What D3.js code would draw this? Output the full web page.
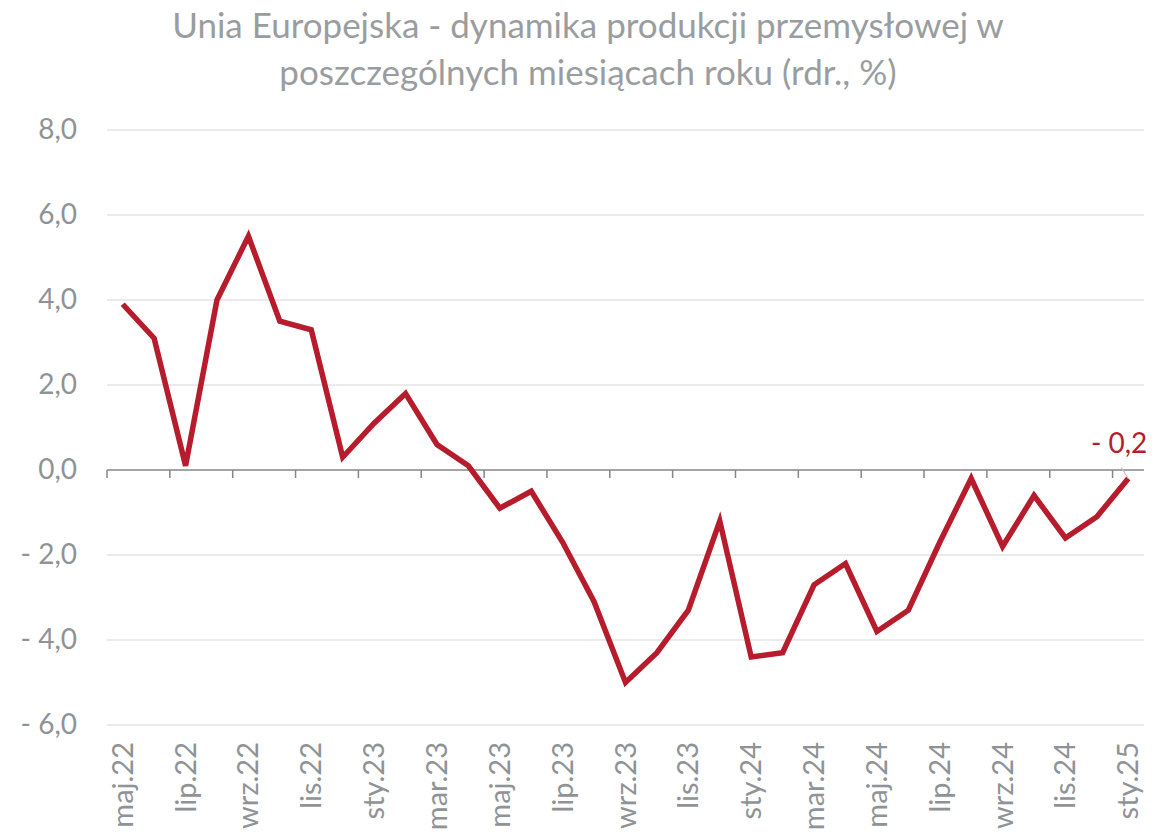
<!DOCTYPE html>
<html>
<head>
<meta charset="utf-8">
<script src="https://cdn.jsdelivr.net/npm/d3@7"></script>
<style>
  body { margin: 0; background: #fff; }
  svg text { font-family: Lato, "Open Sans", sans-serif; }
</style>
</head>
<body>
<div id="graphContainer"></div>
<script>
// months from maj.22 to sty.25
const months = [
    "maj.22", "cze.22", "lip.22", "sie.22", "wrz.22", "paź.22", "lis.22", "gru.22",
    "sty.23", "lut.23", "mar.23", "kwi.23", "maj.23", "cze.23", "lip.23", "sie.23",
    "wrz.23", "paź.23", "lis.23", "gru.23", "sty.24", "lut.24", "mar.24", "kwi.24",
    "maj.24", "cze.24", "lip.24", "sie.24", "wrz.24", "paź.24", "lis.24", "gru.24",
    "sty.25"
];
const values = [
    3.9, 3.1, 0.1, 4.0, 5.5, 3.5, 3.3, 0.3,
    1.1, 1.8, 0.6, 0.1, -0.9, -0.5, -1.7, -3.1,
    -5.0, -4.3, -3.3, -1.2, -4.4, -4.3, -2.7, -2.2,
    -3.8, -3.3, -1.7, -0.2, -1.8, -0.6, -1.6, -1.1,
    -0.2
];
const yTicks = [-6, -4, -2, 0, 2, 4, 6, 8];
const titleLines = [
    "Unia Europejska - dynamika produkcji przemysłowej w",
    "poszczególnych miesiącach roku (rdr., %)"
];

const W = 1152, H = 836;
const margin = { top: 130, right: 8, bottom: 111, left: 107 };
const width = W - margin.left - margin.right;
const height = H - margin.top - margin.bottom;

const svg = d3.select("#graphContainer").append("svg")
    .attr("width", W)
    .attr("height", H);

// title
svg.append("g").selectAll("text")
    .data(titleLines)
    .enter()
    .append("text")
    .attr("x", 588)
    .attr("y", (d, i) => 38 + i * 47)
    .attr("text-anchor", "middle")
    .style("font-size", "35px")
    .style("fill", "#9a9d9f")
    .text(d => d);

const g = svg.append("g")
    .attr("transform", `translate(${margin.left},${margin.top})`);

const x = d3.scaleBand().domain(months).range([0, width]);
const y = d3.scaleLinear().domain([-6, 8]).range([height, 0]);

const fmt = v => (v < 0 ? "- " : "") + d3.format(".1f")(Math.abs(v)).replace(".", ",");

// gridlines
g.selectAll(".grid")
    .data(yTicks.filter(d => d !== 0))
    .enter()
    .append("line")
    .attr("class", "grid")
    .attr("x1", 0).attr("x2", width)
    .attr("y1", d => y(d)).attr("y2", d => y(d))
    .attr("stroke", "#e3e3e3")
    .attr("stroke-width", 1.5);

// y axis labels
const yAxis = g.append("g")
    .call(d3.axisLeft(y).tickValues(yTicks).tickFormat(fmt).tickSize(0).tickPadding(30));
yAxis.select(".domain").remove();
yAxis.selectAll("text")
    .style("font-size", "28px")
    .style("fill", "#8f9396");

// x axis at zero
const xAxis = g.append("g")
    .attr("transform", `translate(0,${y(0)})`);
xAxis.append("line")
    .attr("x1", 0).attr("x2", width)
    .attr("stroke", "#868686")
    .attr("stroke-width", 1.5);
const tickIdx = d3.range(0, months.length + 1, 2);
xAxis.selectAll(".tk")
    .data(tickIdx)
    .enter()
    .append("line")
    .attr("class", "tk")
    .attr("x1", i => i < months.length ? x(months[i]) : width)
    .attr("x2", i => i < months.length ? x(months[i]) : width)
    .attr("y1", 0).attr("y2", 8)
    .attr("stroke", "#868686")
    .attr("stroke-width", 1.5);

// x labels at bottom, rotated
g.append("g").selectAll("text")
    .data(months.filter((d, i) => i % 2 === 0))
    .enter()
    .append("text")
    .attr("transform", d => `translate(${x(d) + x.bandwidth() / 2 + 10},${height + 17}) rotate(-90)`)
    .attr("text-anchor", "end")
    .style("font-size", "29px")
    .style("fill", "#8f9396")
    .text(d => d);

// line
const line = d3.line()
    .x((d, i) => x(months[i]) + x.bandwidth() / 2)
    .y(d => y(d));

g.append("path")
    .datum(values)
    .attr("d", line)
    .attr("fill", "none")
    .attr("stroke", "#b71c2c")
    .attr("stroke-width", 5.5)
    .attr("stroke-linejoin", "miter");

// last value label with leader
const lastI = values.length - 1;
const lx = x(months[lastI]) + x.bandwidth() / 2;
const ly = y(values[lastI]);
g.append("line")
    .attr("x1", lx).attr("y1", ly)
    .attr("x2", lx - 7).attr("y2", ly - 11)
    .attr("stroke", "#bfbfbf")
    .attr("stroke-width", 1.2);
g.append("text")
    .attr("x", lx + 19)
    .attr("y", ly - 26)
    .attr("text-anchor", "end")
    .style("font-size", "28px")
    .style("fill", "#b71c2c")
    .text(fmt(values[lastI]));
</script>
</body>
</html>
